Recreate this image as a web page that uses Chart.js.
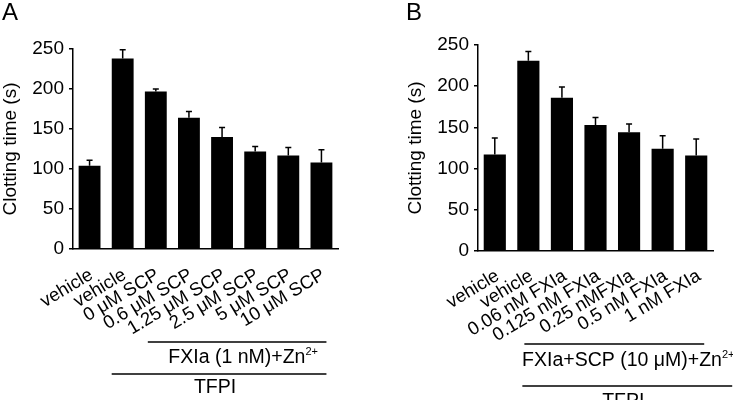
<!DOCTYPE html>
<html>
<head>
<meta charset="utf-8">
<script src="https://cdn.jsdelivr.net/npm/chart.js@4/dist/chart.umd.min.js"></script>
<style>
  body { margin: 0; background: #fff; }
  #wrap { position: relative; width: 733px; height: 400px; }
  canvas { position: absolute; top: 0; }
</style>
</head>
<body>
<div id="wrap">
  <canvas id="chartA" width="366" height="400" style="left:0"></canvas>
  <canvas id="chartB" width="367" height="400" style="left:366px"></canvas>
</div>
<script>
// panel A data
var labelsA = ['vehicle', 'vehicle', '0 μM SCP', '0.6 μM SCP', '1.25 μM SCP', '2.5 μM SCP', '5 μM SCP', '10 μM SCP'];
var valuesA = [104, 238, 197, 164, 140, 122, 117, 108];
var errorsA = [7, 11, 3, 8, 12, 6, 10, 16];

// panel B data
var labelsB = ['vehicle', 'vehicle', '0.06 nM FXIa', '0.125 nM FXIa', '0.25 nMFXIa', '0.5 nM FXIa', '1 nM FXIa'];
var valuesB = [117, 231, 186, 153, 144, 124, 116];
var errorsB = [20, 11, 13, 9, 10, 16, 20];

var yTicks = [0, 50, 100, 150, 200, 250];

var FONT = "'Liberation Sans', Arial, Helvetica, sans-serif";

// per-panel extras, kept out of chart options so chart.js doesn't proxy them
var panels = {
    chartA: {
        errors: errorsA, letter: 'A', letterX: 2, titleX: 11,
        brackets: [
            { from: 2, to: 7, dx1: -8, dx2: 5, y: 342, ty: 16, text: 'FXIa (1 nM)+Zn', sup: '2+', shift: 6 },
            { from: 1, to: 7, dx1: -11, dx2: 5, y: 374, ty: 13.5, text: 'TFPI', sup: '', shift: -4 }
        ]
    },
    chartB: {
        errors: errorsB, letter: 'B', letterX: 40, titleX: 50,
        brackets: [
            { from: 1, to: 6, dx1: -4, dx2: 8, y: 344, ty: 16.5, text: 'FXIa+SCP (10 μM)+Zn', sup: '2+', shift: 14 },
            { from: 1, to: 6, dx1: -6, dx2: 36, y: 386, ty: 16, text: 'TFPI', sup: '', shift: -4 }
        ]
    }
};

var extras = {
    id: 'extras',
    afterDatasetsDraw: function(chart) {
        var p = panels[chart.canvas.id];
        var ctx = chart.ctx;
        var yScale = chart.scales.y;
        var xScale = chart.scales.x;
        var meta = chart.getDatasetMeta(0);
        ctx.save();
        ctx.strokeStyle = '#000';
        ctx.fillStyle = '#000';
        ctx.lineWidth = 1.5;
        // error bars, upper half only
        meta.data.forEach(function(bar, i) {
            var v = chart.data.datasets[0].data[i];
            var top = yScale.getPixelForValue(v + p.errors[i]);
            ctx.beginPath();
            ctx.moveTo(bar.x, bar.y);
            ctx.lineTo(bar.x, top);
            ctx.moveTo(bar.x - 3, top);
            ctx.lineTo(bar.x + 3, top);
            ctx.stroke();
        });

        // y title
        ctx.font = '19px ' + FONT;
        ctx.textAlign = 'center';
        ctx.textBaseline = 'middle';
        ctx.save();
        ctx.translate(p.titleX, (chart.chartArea.top + chart.chartArea.bottom) / 2);
        ctx.rotate(-Math.PI / 2);
        ctx.fillText('Clotting time (s)', 0, 0);
        ctx.restore();

        // panel letter
        ctx.font = '24px ' + FONT;
        ctx.textAlign = 'left';
        ctx.textBaseline = 'top';
        ctx.fillText(p.letter, p.letterX, 1);

        // lines + captions under the category axis
        p.brackets.forEach(function(b) {
            var x1 = xScale.getPixelForValue(b.from) + b.dx1;
            var x2 = xScale.getPixelForValue(b.to) + b.dx2;
            ctx.beginPath();
            ctx.moveTo(x1, b.y);
            ctx.lineTo(x2, b.y);
            ctx.stroke();
            var cx = (x1 + x2) / 2 + b.shift;
            ctx.textBaseline = 'middle';
            ctx.textAlign = 'left';
            ctx.font = '19.5px ' + FONT;
            var w = ctx.measureText(b.text).width;
            ctx.font = '11px ' + FONT;
            var supW = b.sup ? ctx.measureText(b.sup).width : 0;
            var left = cx - (w + supW) / 2;
            ctx.font = '19.5px ' + FONT;
            ctx.fillText(b.text, left, b.y + b.ty);
            if (b.sup) {
                ctx.font = '11px ' + FONT;
                ctx.fillText(b.sup, left + w, b.y + b.ty - 6);
            }
        });
        ctx.restore();
    }
};

function makeChart(id, labels, values, yWidth, xHeight, padTop, padRight, labelPad, labelShift) {
    var ctx = document.getElementById(id).getContext('2d');
    return new Chart(ctx, {
        type: 'bar',
        data: {
            labels: labels,
            datasets: [{
                data: values,
                backgroundColor: '#000',
                borderWidth: 0,
                barPercentage: 0.66,
                categoryPercentage: 1
            }]
        },
        options: {
            responsive: false,
            animation: false,
            devicePixelRatio: 1,
            layout: { padding: { top: padTop, right: padRight, left: 0, bottom: 0 } },
            plugins: {
                legend: { display: false },
                tooltip: { enabled: false }
            },
            scales: {
                x: {
                    grid: { display: false },
                    border: { display: true, color: '#000', width: 1.5 },
                    ticks: {
                        color: '#000',
                        font: { family: FONT, size: 18.5 },
                        minRotation: 31,
                        maxRotation: 31,
                        autoSkip: false,
                        padding: labelPad,
                        labelOffset: labelShift
                    },
                    afterFit: function(s) { s.height = xHeight; }
                },
                y: {
                    min: 0,
                    max: 250,
                    afterBuildTicks: function(s) {
                        s.ticks = yTicks.map(function(v) { return { value: v }; });
                    },
                    grid: { drawOnChartArea: false, drawTicks: true, tickLength: 4, color: '#000', lineWidth: 1.5 },
                    border: { display: true, color: '#000', width: 1.5 },
                    ticks: {
                        color: '#000',
                        font: { family: FONT, size: 19 },
                        padding: 5
                    },
                    afterFit: function(s) { s.width = yWidth; }
                }
            }
        },
        plugins: [extras]
    });
}

makeChart('chartA', labelsA, valuesA, 73, 151, 49, 28, 7, 2);
makeChart('chartB', labelsB, valuesB, 112, 149, 45, 20, 6, 3);
</script>
</body>
</html>
